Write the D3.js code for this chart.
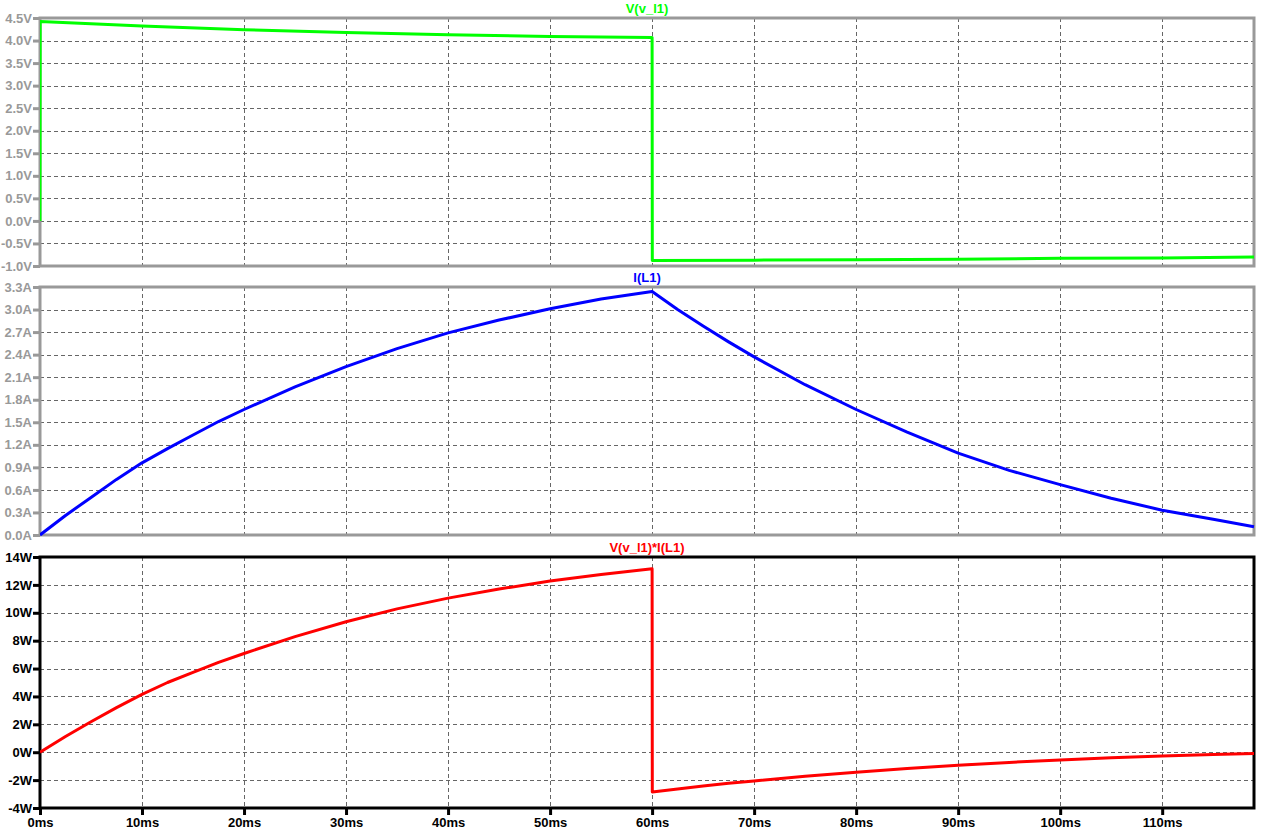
<!DOCTYPE html>
<html>
<head>
<meta charset="utf-8">
<script src="https://cdn.jsdelivr.net/npm/d3@7"></script>
<style>
html,body{margin:0;padding:0;background:#fff;}
svg{display:block;}
text{font-family:"Liberation Sans",Arial,sans-serif;font-weight:bold;}
</style>
</head>
<body>
<svg id="c" width="1276" height="835"></svg>
<script>
// ---- data ----
const xTicks = [0,10,20,30,40,50,60,70,80,90,100,110];
const xDomain = [0,119];

const vTicks = [4.5,4.0,3.5,3.0,2.5,2.0,1.5,1.0,0.5,0.0,-0.5,-1.0];
const iTicks = [3.3,3.0,2.7,2.4,2.1,1.8,1.5,1.2,0.9,0.6,0.3,0.0];
const pTicks = [14,12,10,8,6,4,2,0,-2,-4];

const tV = [0,0.02,5,10,20,30,40,50,60,60.02,70,80,90,100,110,119];
const vV = [0,4.42,4.37,4.32,4.24,4.18,4.13,4.09,4.07,-0.88,-0.87,-0.86,-0.85,-0.83,-0.82,-0.80];

const tI = [0,2.5,5,7.5,10,12.5,15,17.5,20,25,30,35,40,45,50,55,60,62.5,65,67.5,70,75,80,85,90,95,100,105,110,115,119];
const vI = [0,0.26,0.50,0.74,0.96,1.15,1.33,1.51,1.67,1.97,2.24,2.48,2.69,2.86,3.01,3.14,3.24,3.00,2.78,2.57,2.37,2.00,1.67,1.37,1.09,0.86,0.67,0.49,0.33,0.21,0.11];

const tP = [0,2.5,5,7.5,10,12.5,15,17.5,20,25,30,35,40,45,50,55,60,60.02,62.5,65,67.5,70,75,80,85,90,95,100,105,110,115,119];
const vP = [0,1.13,2.19,3.2,4.15,5.0,5.72,6.44,7.08,8.29,9.36,10.28,11.05,11.7,12.28,12.75,13.15,-2.85,-2.63,-2.42,-2.23,-2.06,-1.72,-1.43,-1.17,-0.93,-0.73,-0.55,-0.40,-0.27,-0.17,-0.09];

const panels = [
  {title:"V(v_l1)", color:"#00ff00", frame:"#999999", label:"#999999", top:18, bottom:266,
   domain:[-1.0,4.5], ticks:vTicks, fmt:d=>(d<0?"-":"")+Math.abs(d).toFixed(1)+"V", t:tV, v:vV},
  {title:"I(L1)", color:"#0000ff", frame:"#999999", label:"#999999", top:287, bottom:535,
   domain:[0,3.3], ticks:iTicks, fmt:d=>(d<0?"-":"")+Math.abs(d).toFixed(1)+"A", t:tI, v:vI},
  {title:"V(v_l1)*I(L1)", color:"#ff0000", frame:"#000000", label:"#000000", top:557, bottom:808,
   domain:[-4,14], ticks:pTicks, fmt:d=>(d<0?"-":"")+Math.abs(d)+"W", t:tP, v:vP}
];

const L = 40, R = 1254;
const svg = d3.select("#c");
svg.append("rect").attr("width",1276).attr("height",835).attr("fill","#fff");
const x = d3.scaleLinear().domain(xDomain).range([L,R]);

panels.forEach((p,i)=>{
  const y = d3.scaleLinear().domain(p.domain).range([p.bottom,p.top]);
  const g = svg.append("g");
  svg.append("clipPath").attr("id","clip"+i).append("rect")
    .attr("x",L).attr("y",p.top-2).attr("width",R-L+2).attr("height",p.bottom-p.top+4);
  // grid
  g.selectAll(".vg").data(xTicks.filter(d=>d>0)).join("line")
    .attr("x1",d=>Math.round(x(d))+0.5).attr("x2",d=>Math.round(x(d))+0.5)
    .attr("y1",p.top).attr("y2",p.bottom)
    .attr("stroke","#666").attr("stroke-width",1).attr("stroke-dasharray","4,3");
  g.selectAll(".hg").data(p.ticks.filter(d=>d!==p.domain[0]&&d!==p.domain[1])).join("line")
    .attr("x1",L).attr("x2",R)
    .attr("y1",d=>Math.round(y(d))+0.5).attr("y2",d=>Math.round(y(d))+0.5)
    .attr("stroke","#666").attr("stroke-width",1).attr("stroke-dasharray","4,3");
  // frame
  g.append("rect").attr("x",L).attr("y",p.top).attr("width",R-L).attr("height",p.bottom-p.top)
    .attr("fill","none").attr("stroke",p.frame).attr("stroke-width",3);
  // y axis
  const ax = svg.append("g").attr("transform",`translate(${L},0)`)
    .call(d3.axisLeft(y).tickValues(p.ticks).tickFormat(p.fmt).tickSize(7).tickPadding(1));
  ax.select(".domain").remove();
  ax.selectAll(".tick line").attr("stroke",p.frame).attr("stroke-width",3);
  ax.selectAll(".tick text").attr("fill",p.label).attr("font-size",13)
    .attr("font-family","Liberation Sans, Arial, sans-serif").attr("font-weight","bold");
  // title
  svg.append("text").attr("x",647).attr("y",p.top-5).attr("text-anchor","middle")
    .attr("fill",p.color).attr("font-size",13).text(p.title);
  // curve
  const line = d3.line().x((d,k)=>x(p.t[k])).y(d=>y(d));
  svg.append("path").datum(p.v).attr("d",line).attr("fill","none")
    .attr("stroke",p.color).attr("stroke-width",3).attr("stroke-linejoin","round")
    .attr("clip-path",`url(#clip${i})`);
  if(i===2){
    const xa = svg.append("g").attr("transform",`translate(0,${p.bottom})`)
      .call(d3.axisBottom(x).tickValues(xTicks).tickFormat(d=>d+"ms").tickSize(7).tickPadding(3));
    xa.select(".domain").remove();
    xa.selectAll(".tick line").attr("stroke","#000").attr("stroke-width",3);
    xa.selectAll(".tick text").attr("fill","#000").attr("font-size",13)
      .attr("font-family","Liberation Sans, Arial, sans-serif").attr("font-weight","bold");
  }
});
</script>
</body>
</html>
